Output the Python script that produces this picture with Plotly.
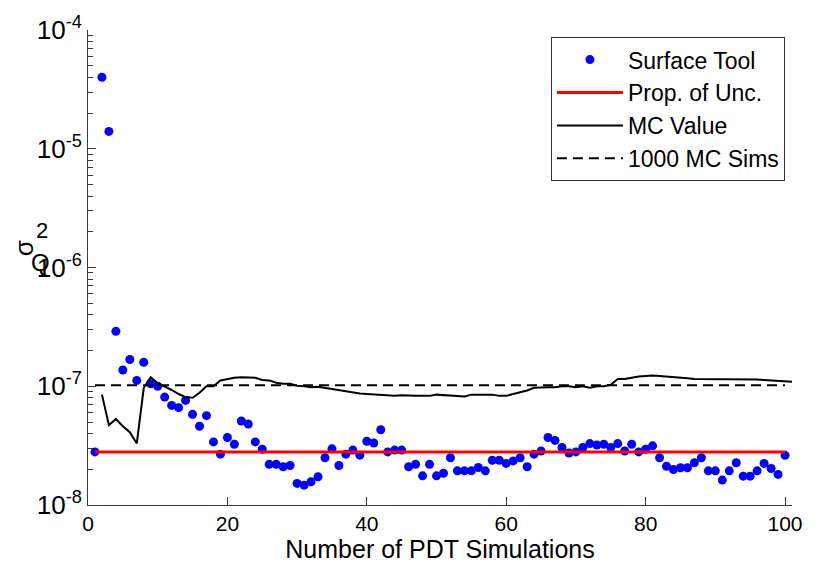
import plotly.graph_objects as go

# ---- data ----
surface_x = list(range(1, 101))
surface_y = [
    2.8e-8, 4.0e-5, 1.4e-5, 2.9e-7, 1.37e-7, 1.68e-7, 1.12e-7, 1.59e-7, 1.05e-7, 1.0e-7,
    8.1e-8, 6.9e-8, 6.6e-8, 7.6e-8, 5.8e-8, 4.6e-8, 5.65e-8, 3.4e-8, 2.68e-8, 3.7e-8,
    3.25e-8, 5.1e-8, 4.8e-8, 3.4e-8, 2.95e-8, 2.2e-8, 2.2e-8, 2.1e-8, 2.15e-8, 1.52e-8,
    1.47e-8, 1.57e-8, 1.73e-8, 2.5e-8, 2.97e-8, 2.15e-8, 2.68e-8, 2.9e-8, 2.63e-8, 3.44e-8,
    3.33e-8, 4.3e-8, 2.8e-8, 2.9e-8, 2.9e-8, 2.1e-8, 2.2e-8, 1.76e-8, 2.2e-8, 1.76e-8,
    1.85e-8, 2.5e-8, 1.94e-8, 1.94e-8, 1.94e-8, 2.07e-8, 1.94e-8, 2.38e-8, 2.38e-8, 2.24e-8,
    2.35e-8, 2.5e-8, 2.1e-8, 2.68e-8, 2.85e-8, 3.7e-8, 3.5e-8, 3.05e-8, 2.74e-8, 2.8e-8,
    3.05e-8, 3.29e-8, 3.2e-8, 3.25e-8, 3.05e-8, 3.29e-8, 2.85e-8, 3.25e-8, 2.8e-8, 2.95e-8,
    3.15e-8, 2.5e-8, 2.12e-8, 1.99e-8, 2.06e-8, 2.06e-8, 2.27e-8, 2.5e-8, 1.94e-8, 1.94e-8,
    1.62e-8, 1.94e-8, 2.27e-8, 1.75e-8, 1.75e-8, 1.94e-8, 2.24e-8, 2.03e-8, 1.81e-8, 2.62e-8,
]

mc_x = list(range(2, 102))
mc_y = [
    8.5e-8, 4.7e-8, 5.3e-8, 4.6e-8, 4.1e-8, 3.3e-8, 9.7e-8, 1.19e-7, 1.06e-7, 1.0e-7,
    9.3e-8, 8.6e-8, 8.1e-8, 8.0e-8, 8.8e-8, 1.0e-7, 1.0e-7, 1.12e-7, 1.15e-7, 1.18e-7,
    1.19e-7, 1.19e-7, 1.18e-7, 1.13e-7, 1.12e-7, 1.07e-7, 1.05e-7, 1.05e-7, 1.01e-7, 1.0e-7,
    9.8e-8, 9.9e-8, 9.7e-8, 9.4e-8, 9.2e-8, 9.0e-8, 8.9e-8, 8.7e-8, 8.6e-8, 8.5e-8,
    8.4e-8, 8.4e-8, 8.3e-8, 8.4e-8, 8.3e-8, 8.3e-8, 8.3e-8, 8.3e-8, 8.5e-8, 8.4e-8,
    8.4e-8, 8.2e-8, 8.2e-8, 8.5e-8, 8.5e-8, 8.5e-8, 8.5e-8, 8.3e-8, 8.3e-8, 8.6e-8,
    8.9e-8, 9.2e-8, 9.7e-8, 9.8e-8, 9.8e-8, 9.8e-8, 1.0e-7, 1.0e-7, 9.8e-8, 1.0e-7,
    9.7e-8, 1.0e-7, 1.0e-7, 1.03e-7, 1.15e-7, 1.15e-7, 1.18e-7, 1.21e-7, 1.22e-7, 1.23e-7,
    1.22e-7, 1.21e-7, 1.19e-7, 1.18e-7, 1.17e-7, 1.15e-7, 1.15e-7, 1.15e-7, 1.15e-7, 1.15e-7,
    1.14e-7, 1.14e-7, 1.14e-7, 1.14e-7, 1.14e-7, 1.13e-7, 1.12e-7, 1.10e-7, 1.09e-7, 1.09e-7,
]

prop_x = [1, 100]
prop_y = [2.8e-8, 2.8e-8]

sims_x = [1, 100]
sims_y = [1.02e-7, 1.02e-7]

x_ticks = [0, 20, 40, 60, 80, 100]
y_ticks = [1e-8, 1e-7, 1e-6, 1e-5, 1e-4]
y_ticktext = ["10<sup>-8</sup>", "10<sup>-7</sup>", "10<sup>-6</sup>", "10<sup>-5</sup>", "10<sup>-4</sup>"]
y_minor = [m * 10.0 ** e for e in range(-8, -4) for m in range(2, 10)]

FONT = "Liberation Sans, Arial, sans-serif"
AXIS_COLOR = "#3a3a3a"

fig = go.Figure()
fig.add_trace(go.Scatter(x=surface_x, y=surface_y, mode="markers", name="Surface Tool",
                         marker=dict(color="#0000FF", size=9, symbol="circle")))
fig.add_trace(go.Scatter(x=prop_x, y=prop_y, mode="lines", name="Prop. of Unc.",
                         line=dict(color="#FF0000", width=3)))
fig.add_trace(go.Scatter(x=mc_x, y=mc_y, mode="lines", name="MC Value",
                         line=dict(color="#000000", width=2)))
fig.add_trace(go.Scatter(x=sims_x, y=sims_y, mode="lines", name="1000 MC Sims", yaxis="y2",
                         line=dict(color="#000000", width=2, dash="10px,6px")))

fig.update_layout(
    width=815, height=572,
    margin=dict(l=88, r=19, t=28, b=67),
    paper_bgcolor="white", plot_bgcolor="white",
    font=dict(family=FONT, color="black"),
    showlegend=True,
    legend=dict(x=0.99, y=0.985, xanchor="right", yanchor="top",
                bgcolor="white", bordercolor="#333333", borderwidth=1,
                font=dict(size=23, family=FONT, color="black"),
                itemwidth=66, tracegroupgap=0),
    xaxis=dict(range=[0, 101], tickvals=x_ticks, ticks="inside", ticklen=8,
               tickcolor=AXIS_COLOR, showline=True, linecolor=AXIS_COLOR, linewidth=1,
               showgrid=False, zeroline=False, mirror=False,
               tickfont=dict(size=21, family=FONT, color="black"),
               title=dict(text="Number of PDT Simulations", standoff=4,
                          font=dict(size=25, family=FONT, color="black"))),
    yaxis=dict(type="log", range=[-8, -4], tickvals=y_ticks, ticktext=y_ticktext,
               ticks="inside", ticklen=8, tickcolor=AXIS_COLOR,
               showline=True, linecolor=AXIS_COLOR, linewidth=1,
               showgrid=False, zeroline=False, mirror=False,
               tickfont=dict(size=26, family=FONT, color="black")),
    yaxis2=dict(type="log", range=[-8, -4], overlaying="y", side="left", anchor="x",
                tickvals=y_minor, ticks="inside", ticklen=5, tickwidth=1, tickcolor=AXIS_COLOR,
                showticklabels=False, showgrid=False, zeroline=False, showline=False),
)

# y-axis label (sigma_Q^2) as drawn in the reference
fig.add_annotation(xref="paper", yref="paper", x=-0.09, xanchor="center", y=0.54, text="σ",
                   showarrow=False, textangle=-90, font=dict(size=26, family=FONT, color="black"))
fig.add_annotation(xref="paper", yref="paper", x=-0.065, xanchor="center", y=0.578, text="2",
                   showarrow=False, font=dict(size=22, family=FONT, color="black"))
fig.add_annotation(xref="paper", yref="paper", x=-0.068, xanchor="center", y=0.51, text="Q",
                   showarrow=False, font=dict(size=24, family=FONT, color="black"))

fig.write_html("out.html")
